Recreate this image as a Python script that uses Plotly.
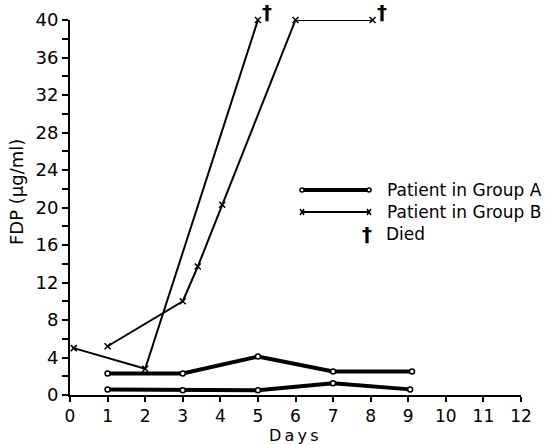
import plotly.graph_objects as go

# Data
a1_days = [1, 3, 5, 7, 9.1]
a1_fdp = [2.3, 2.3, 4.1, 2.5, 2.5]
a2_days = [1, 3, 5, 7, 9.05]
a2_fdp = [0.6, 0.5, 0.5, 1.25, 0.6]
b1_days = [0.1, 2, 5]
b1_fdp = [5.0, 2.8, 40]
b2_days = [1, 3, 3.4, 4.05, 6, 8.05]
b2_fdp = [5.2, 10.0, 13.7, 20.3, 40, 40]
died_days = [5, 8.05]
died_fdp = [40, 40]

x_ticks = list(range(0, 13))
y_ticks = list(range(0, 41, 4))

FONT = "DejaVu Sans"
fig = go.Figure()

for xs, ys in [(a1_days, a1_fdp), (a2_days, a2_fdp)]:
    fig.add_trace(go.Scatter(
        x=xs, y=ys, mode="lines+markers",
        line=dict(color="black", width=4),
        marker=dict(symbol="circle", size=5, color="white",
                    line=dict(color="black", width=1.5)),
        showlegend=False, cliponaxis=False))

for xs, ys in [(b1_days, b1_fdp), (b2_days, b2_fdp)]:
    fig.add_trace(go.Scatter(
        x=xs, y=ys, mode="lines+markers",
        line=dict(color="black", width=2),
        marker=dict(symbol="x-thin", size=6, color="black",
                    line=dict(color="black", width=1.5)),
        showlegend=False, cliponaxis=False))

# death markers: dagger just above-right of the last point of each fatal course
for dx, dy in zip(died_days, died_fdp):
    fig.add_annotation(x=dx, y=dy, xshift=9, yshift=8, showarrow=False,
                       text="<b>†</b>",
                       font=dict(family=FONT, size=20, color="black"))

# legend drawn manually (paper coordinates; plot area spans page px 70..521, 20..395)
def px(xp):
    return (xp - 70) / 451.0

def py(yp):
    return (395 - yp) / 375.0

fig.add_shape(type="line", xref="paper", yref="paper",
              x0=px(303), x1=px(369), y0=py(190), y1=py(190),
              line=dict(color="black", width=4))
fig.add_shape(type="line", xref="paper", yref="paper",
              x0=px(302), x1=px(369), y0=py(212), y1=py(212),
              line=dict(color="black", width=2))
for (x0, y0) in [(302, 190), (369, 190)]:
    fig.add_shape(type="circle", xref="paper", yref="paper",
                  x0=px(x0 - 2), x1=px(x0 + 2), y0=py(y0 + 2), y1=py(y0 - 2),
                  line=dict(color="black", width=1.5), fillcolor="white")
for xc in [302, 369]:
    fig.add_shape(type="line", xref="paper", yref="paper",
                  x0=px(xc - 2), x1=px(xc + 2), y0=py(209), y1=py(215),
                  line=dict(color="black", width=1.5))
    fig.add_shape(type="line", xref="paper", yref="paper",
                  x0=px(xc - 2), x1=px(xc + 2), y0=py(215), y1=py(209),
                  line=dict(color="black", width=1.5))

fig.add_annotation(xref="paper", yref="paper", x=px(385), y=py(190),
                   xanchor="left", yanchor="middle", showarrow=False,
                   text="Patient in Group A",
                   font=dict(family=FONT, size=17, color="black"))
fig.add_annotation(xref="paper", yref="paper", x=px(385), y=py(212),
                   xanchor="left", yanchor="middle", showarrow=False,
                   text="Patient in Group B",
                   font=dict(family=FONT, size=17, color="black"))
fig.add_annotation(xref="paper", yref="paper", x=px(367), y=py(234),
                   xanchor="center", yanchor="middle", showarrow=False,
                   text="<b>†</b>",
                   font=dict(family=FONT, size=20, color="black"))
fig.add_annotation(xref="paper", yref="paper", x=px(384), y=py(234),
                   xanchor="left", yanchor="middle", showarrow=False,
                   text="Died",
                   font=dict(family=FONT, size=17, color="black"))

# axis titles
fig.add_annotation(xref="paper", yref="paper", x=px(16), y=py(192),
                   xanchor="center", yanchor="middle", showarrow=False,
                   text="FDP (μg/ml)", textangle=-90,
                   font=dict(family=FONT, size=18, color="black"))
fig.add_annotation(xref="paper", yref="paper", x=px(294), y=py(435),
                   xanchor="center", yanchor="middle", showarrow=False,
                   text="D\u2009a\u2009y\u2009s",
                   font=dict(family=FONT, size=16, color="black"))

fig.update_xaxes(range=[0, 12], tickvals=x_ticks,
                 ticktext=[str(v) for v in x_ticks],
                 showline=True, linecolor="black", linewidth=2,
                 ticks="outside", ticklen=5, tickwidth=2, tickcolor="black",
                 showgrid=False, zeroline=False, automargin=False,
                 tickfont=dict(family=FONT, size=17, color="black"))
fig.update_yaxes(range=[0, 40], tickvals=y_ticks,
                 ticktext=[str(v) for v in y_ticks],
                 showline=True, linecolor="black", linewidth=2,
                 ticks="outside", ticklen=6, tickwidth=2, tickcolor="black",
                 minor=dict(dtick=2, ticks="outside", ticklen=6, tickwidth=2,
                            tickcolor="black", showgrid=False),
                 showgrid=False, zeroline=False, automargin=False,
                 tickfont=dict(family=FONT, size=18, color="black"))

fig.update_layout(width=545, height=444,
                  margin=dict(l=70, r=24, t=20, b=49),
                  paper_bgcolor="white", plot_bgcolor="white",
                  showlegend=False)

# remove the default 8px page margin so the figure fills the window exactly
fig.write_html("out.html",
               config={"displayModeBar": False},
               post_script="document.body.style.margin='0px';")
